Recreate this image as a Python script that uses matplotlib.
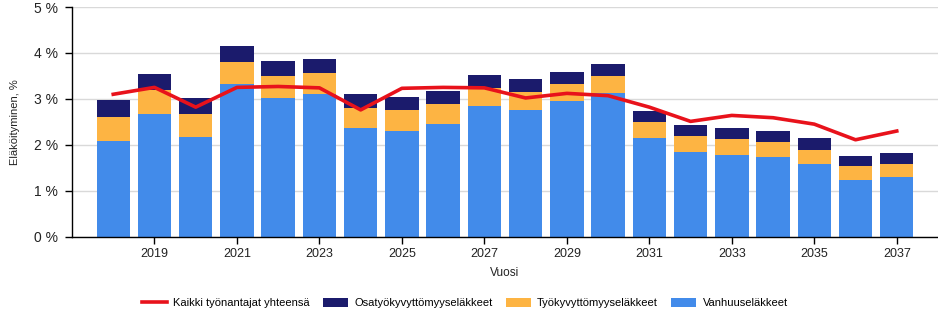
import numpy as np
import matplotlib.pyplot as plt

plt.rcParams['font.family'] = ['Liberation Sans', 'DejaVu Sans']

years = list(range(2018, 2038))

# stacked totals (top of each segment)
blue_top = [2.08, 2.67, 2.18, 3.33, 3.02, 3.11, 2.37, 2.30, 2.46, 2.85,
            2.76, 2.96, 3.12, 2.15, 1.85, 1.78, 1.74, 1.58, 1.24, 1.30]
orange_top = [2.61, 3.20, 2.67, 3.81, 3.50, 3.57, 2.80, 2.76, 2.89, 3.24,
              3.15, 3.33, 3.50, 2.50, 2.19, 2.13, 2.06, 1.89, 1.54, 1.58]
bar_top = [2.98, 3.55, 3.02, 4.15, 3.83, 3.87, 3.11, 3.04, 3.17, 3.52,
           3.44, 3.59, 3.76, 2.74, 2.43, 2.37, 2.30, 2.15, 1.76, 1.82]
kaikki = [3.10, 3.25, 2.82, 3.25, 3.27, 3.24, 2.76, 3.23, 3.25, 3.24,
          3.02, 3.12, 3.07, 2.82, 2.51, 2.64, 2.59, 2.45, 2.11, 2.30]

vanhuus = np.array(blue_top)
tyokyvyttomyys = np.array(orange_top) - vanhuus
osatyokyvyttomyys = np.array(bar_top) - np.array(orange_top)

c_blue = '#428BEA'
c_orange = '#FDB443'
c_navy = '#1B1B6C'
c_red = '#E8121B'

fig = plt.figure(figsize=(9.38, 3.26), dpi=100)
ax = fig.add_axes([72 / 938, 89.3 / 326, 866 / 938, 229.7 / 326])

x = np.arange(len(years))
w = 0.81
ax.bar(x, vanhuus, w, color=c_blue, label='Vanhuuseläkkeet', zorder=2)
ax.bar(x, tyokyvyttomyys, w, bottom=vanhuus, color=c_orange,
       label='Työkyvyttömyyseläkkeet', zorder=2)
ax.bar(x, osatyokyvyttomyys, w, bottom=vanhuus + tyokyvyttomyys, color=c_navy,
       label='Osatyökyvyttömyyseläkkeet', zorder=2)
ax.plot(x, kaikki, color=c_red, lw=2.6, label='Kaikki työnantajat yhteensä', zorder=3)

ax.set_xlim(-1, 20)
ax.set_ylim(0, 5)
ax.set_yticks([0, 1, 2, 3, 4, 5])
ax.set_yticklabels(['%d %%' % v for v in range(6)], fontsize=10, color='#222222')
odd = [i for i, y in enumerate(years) if y % 2 == 1]
ax.set_xticks(odd)
ax.set_xticklabels([str(years[i]) for i in odd], fontsize=9, color='#222222')
ax.tick_params(axis='both', direction='out', length=5, width=1, color='black', pad=3)
ax.tick_params(axis='y', pad=5)
ax.grid(axis='y', color='#d9d9d9', lw=1, zorder=0)
ax.set_axisbelow(True)
for s in ['top', 'right']:
    ax.spines[s].set_visible(False)
ax.spines['left'].set_linewidth(1)
ax.spines['bottom'].set_linewidth(1)

ax.set_ylabel('Eläköityminen, %', fontsize=8, labelpad=10, color='#222222')
ax.set_xlabel('Vuosi', fontsize=8.5, labelpad=5, color='#222222')

h, l = ax.get_legend_handles_labels()
order = [0, 3, 2, 1]
fig.legend([h[i] for i in order], [l[i] for i in order], loc='center',
           bbox_to_anchor=(465 / 938, 1 - 303 / 326), ncol=4, frameon=False,
           fontsize=8, handlelength=2.2, handleheight=0.9, columnspacing=1.2,
           handletextpad=0.6)

fig.savefig('out.png', dpi=100)
